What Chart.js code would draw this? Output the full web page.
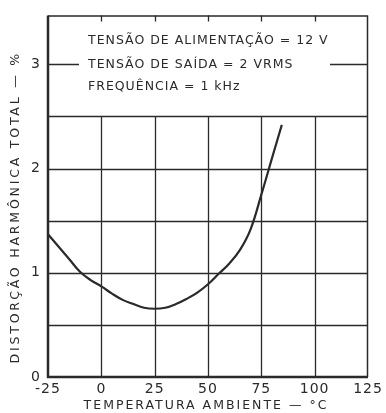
<!DOCTYPE html>
<html>
<head>
<meta charset="utf-8">
<script src="https://cdn.jsdelivr.net/npm/chart.js@4.4.1/dist/chart.umd.min.js"></script>
<style>
html,body{margin:0;padding:0;background:#fff;}
#wrap{width:386px;height:413px;}
</style>
</head>
<body>
<div id="wrap"><canvas id="c" width="386" height="413"></canvas></div>
<script>
// ---- data ----
const temperatures = [-25, -20, -15, -10, -5, 0, 5, 10, 15, 20, 25, 30, 35, 40, 45, 50, 55, 60, 65, 70, 75, 80, 84.6];
const distortion   = [1.37, 1.25, 1.13, 1.01, 0.93, 0.87, 0.80, 0.74, 0.70, 0.665, 0.655, 0.665, 0.70, 0.75, 0.81, 0.89, 0.99, 1.09, 1.22, 1.42, 1.75, 2.10, 2.42];
const xTicks = [-25, 0, 25, 50, 75, 100, 125];
const yTicks = [0, 1, 2, 3];
const yGrid = [0.5, 1, 1.5, 2, 2.5];
const xGrid = [0, 25, 50, 75, 100];
const infoLines = ['TENSÃO DE ALIMENTAÇÃO = 12 V', 'TENSÃO DE SAÍDA = 2 VRMS', 'FREQUÊNCIA = 1 kHz'];
const xTitle = 'TEMPERATURA AMBIENTE — °C';
const yTitle = 'DISTORÇÃO HARMÔNICA TOTAL — %';

const INK = '#2a2a2a';
const FONT = "'DejaVu Sans', sans-serif";

const spacingPlugin = {
  id: 'spacing',
  beforeDraw(chart) { chart.ctx.letterSpacing = '1px'; }
};

const gridPlugin = {
  id: 'customGrid',
  beforeDatasetsDraw(chart) {
    const {ctx, chartArea: a, scales: {x, y}} = chart;
    ctx.save();
    ctx.letterSpacing = '0px';
    ctx.strokeStyle = INK;
    ctx.lineWidth = 1.3;
    ctx.beginPath();
    yGrid.forEach(v => {
      const py = Math.round(y.getPixelForValue(v)) + 0.5;
      ctx.moveTo(a.left, py); ctx.lineTo(a.right, py);
    });
    const top25 = y.getPixelForValue(2.5);
    xGrid.forEach(v => {
      const px = Math.round(x.getPixelForValue(v)) + 0.5;
      ctx.moveTo(px, a.bottom); ctx.lineTo(px, top25);
      ctx.moveTo(px, a.top); ctx.lineTo(px, a.top + 6);
    });
    // broken line at 3
    const p3 = Math.round(y.getPixelForValue(3)) + 0.5;
    ctx.moveTo(a.left, p3); ctx.lineTo(a.left + 31, p3);
    ctx.moveTo(a.right - 38, p3); ctx.lineTo(a.right, p3);
    ctx.stroke();

    // frame
    ctx.lineWidth = 1.5;
    ctx.beginPath();
    ctx.moveTo(a.left, a.top + 0.5); ctx.lineTo(a.right - 0.5, a.top + 0.5); ctx.lineTo(a.right - 0.5, a.bottom);
    ctx.stroke();
    ctx.lineWidth = 2.5;
    ctx.beginPath();
    ctx.moveTo(a.left, a.top); ctx.lineTo(a.left, a.bottom); ctx.lineTo(a.right, a.bottom);
    ctx.stroke();

    // info text
    ctx.fillStyle = INK;
    ctx.font = '12.5px ' + FONT;
    ctx.letterSpacing = '1px';
    ctx.textBaseline = 'middle';
    ctx.textAlign = 'left';
    const tx = a.left + 40;
    [3.23, 3, 2.79].forEach((v, i) => {
      ctx.fillText(infoLines[i], tx, y.getPixelForValue(v));
    });

    // axis titles
    ctx.font = '12.5px ' + FONT;
    ctx.textAlign = 'center';
    ctx.letterSpacing = '2px';
    ctx.fillText(xTitle, (a.left + a.right) / 2 - 2, 406);
    ctx.translate(16, (a.top + a.bottom) / 2 + 11);
    ctx.rotate(-Math.PI / 2);
    ctx.letterSpacing = '2.8px';
    ctx.fillText(yTitle, 0, 0);
    ctx.restore();
  }
};

new Chart(document.getElementById('c'), {
  type: 'line',
  data: {
    datasets: [{
      data: temperatures.map((t, i) => ({x: t, y: distortion[i]})),
      borderColor: INK,
      borderWidth: 2.2,
      pointRadius: 0,
      tension: 0.4,
      fill: false
    }]
  },
  options: {
    responsive: false,
    animation: false,
    devicePixelRatio: 1,
    layout: {padding: {top: 10, right: 18, left: 0, bottom: 0}},
    plugins: {legend: {display: false}, tooltip: {enabled: false}},
    scales: {
      x: {
        type: 'linear',
        min: -25, max: 125,
        afterBuildTicks: s => { s.ticks = xTicks.map(v => ({value: v})); },
        afterFit: s => { s.height = 36; },
        grid: {display: false, drawTicks: false},
        border: {display: false},
        ticks: {color: INK, font: {family: FONT, size: 14}, padding: 4, maxRotation: 0, autoSkip: false},
        title: {display: false}
      },
      y: {
        type: 'linear',
        min: 0, max: 3.47,
        afterBuildTicks: s => { s.ticks = yTicks.map(v => ({value: v})); },
        afterFit: s => { s.width = 48; },
        grid: {display: false, drawTicks: false},
        border: {display: false},
        ticks: {color: INK, font: {family: FONT, size: 14}, padding: 7},
        title: {display: false}
      }
    }
  },
  plugins: [spacingPlugin, gridPlugin]
});
</script>
</body>
</html>
